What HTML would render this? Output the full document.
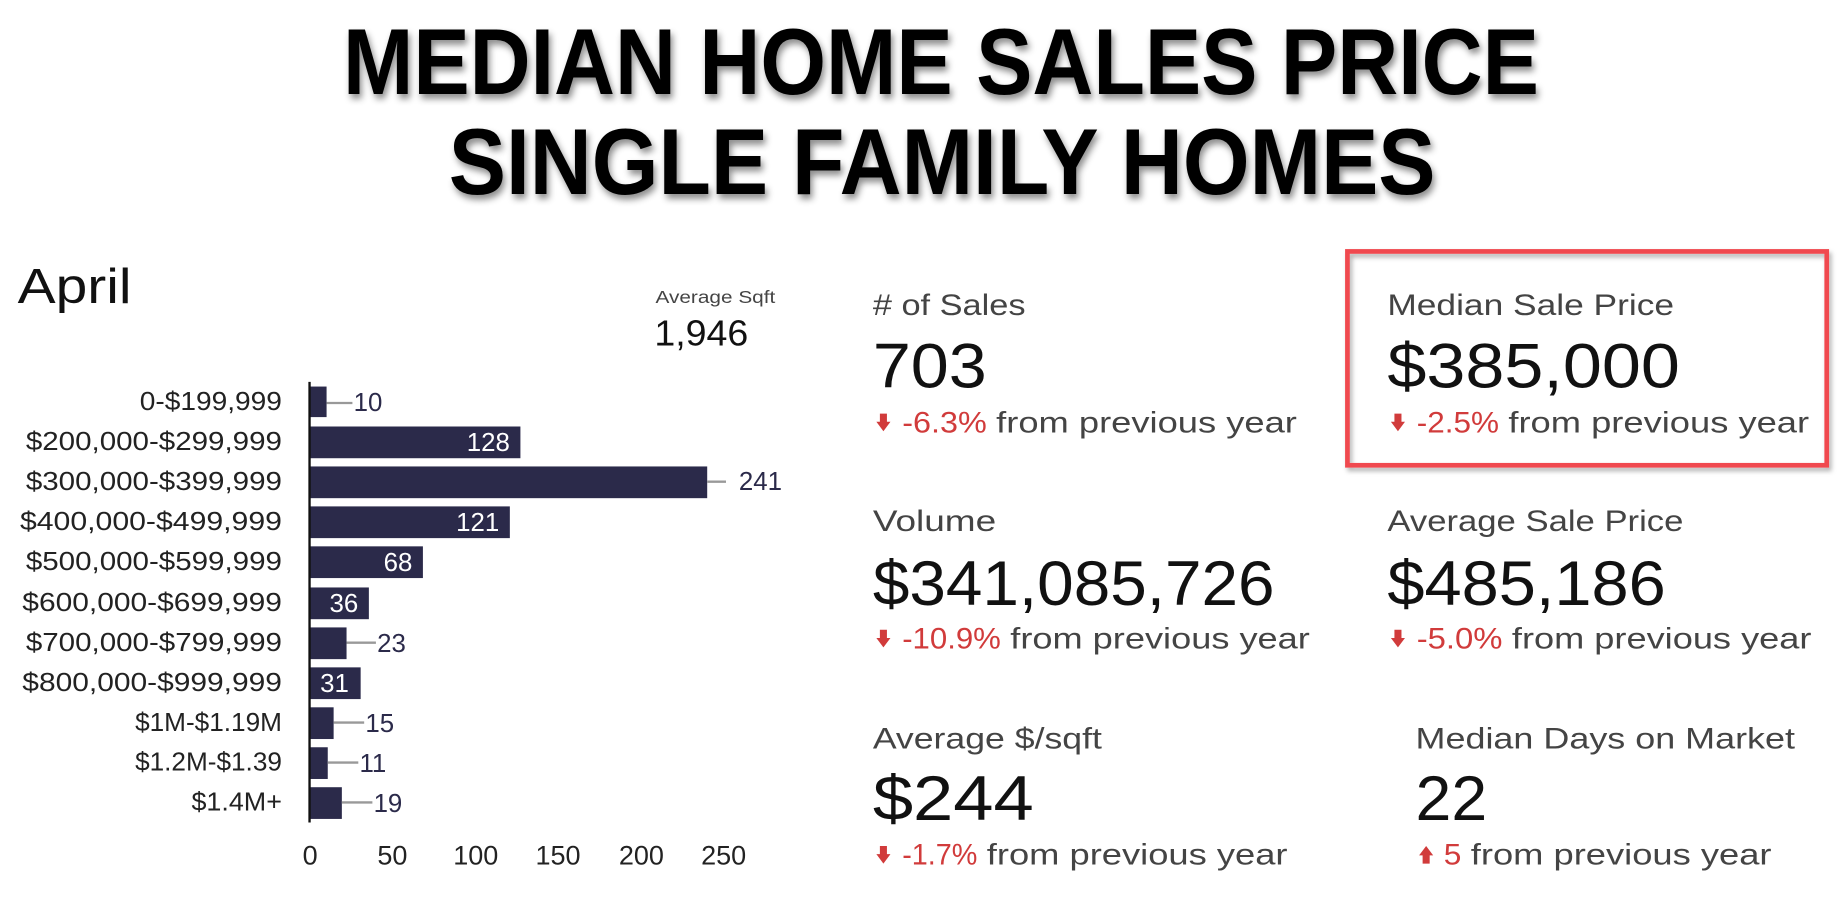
<!DOCTYPE html>
<html><head><meta charset="utf-8"><style>html,body{margin:0;padding:0;background:#fff;overflow:hidden}svg{display:block}</style></head>
<body>
<svg width="1842" height="900" viewBox="0 0 1568 766" preserveAspectRatio="none" xmlns="http://www.w3.org/2000/svg" font-family="Liberation Sans, sans-serif">
<defs>
<filter id="sh" x="-5%" y="-20%" width="110%" height="150%"><feDropShadow dx="2" dy="4" stdDeviation="3" flood-color="#000" flood-opacity="0.45"/></filter>
<filter id="bs" x="-5%" y="-5%" width="110%" height="115%"><feDropShadow dx="2" dy="3" stdDeviation="2" flood-color="#000" flood-opacity="0.3"/></filter>
</defs>
<rect width="1568" height="766" fill="#fff"/>
<g filter="url(#sh)" font-weight="bold" font-size="80" fill="#000">
<text x="292" y="80" textLength="1018" lengthAdjust="spacingAndGlyphs">MEDIAN HOME SALES PRICE</text>
<text x="382" y="165" textLength="840" lengthAdjust="spacingAndGlyphs">SINGLE FAMILY HOMES</text>
</g>
<text x="15" y="258" font-size="42" fill="#111" textLength="97" lengthAdjust="spacingAndGlyphs">April</text>
<text x="558" y="258" font-size="15" fill="#444" textLength="102" lengthAdjust="spacingAndGlyphs">Average Sqft</text>
<text x="557" y="294" font-size="31" fill="#111" textLength="80" lengthAdjust="spacingAndGlyphs">1,946</text>
<g fill="#2b2a4a">
<rect x="264" y="329" width="14" height="26"/>
<rect x="264" y="363" width="179" height="27"/>
<rect x="264" y="397" width="338" height="27"/>
<rect x="264" y="431" width="170" height="27"/>
<rect x="264" y="465" width="96" height="27"/>
<rect x="264" y="500" width="50" height="27"/>
<rect x="264" y="534" width="31" height="27"/>
<rect x="264" y="568" width="43" height="27"/>
<rect x="264" y="602" width="20" height="27"/>
<rect x="264" y="636" width="15" height="27"/>
<rect x="264" y="670" width="27" height="27"/>
</g>
<line x1="263.5" y1="325" x2="263.5" y2="700" stroke="#111" stroke-width="2"/>
<g stroke="#999" stroke-width="2">
<line x1="278" y1="343" x2="300" y2="343"/>
<line x1="602" y1="410" x2="618" y2="410"/>
<line x1="295" y1="547" x2="320" y2="547"/>
<line x1="284" y1="615" x2="310" y2="615"/>
<line x1="279" y1="649" x2="305" y2="649"/>
<line x1="291" y1="683" x2="317" y2="683"/>
</g>
<g font-size="22" fill="#2b2a4a">
<text x="301" y="350">10</text>
<text x="629" y="417">241</text>
<text x="321" y="555">23</text>
<text x="311" y="623">15</text>
<text x="306" y="657">11</text>
<text x="318" y="691">19</text>
</g>
<g font-size="22" fill="#fff" text-anchor="end">
<text x="434" y="384">128</text>
<text x="425" y="452">121</text>
<text x="351" y="486">68</text>
<text x="305" y="521">36</text>
<text x="297" y="589">31</text>
</g>
<g font-size="22" fill="#222">
<text x="119" y="349" textLength="121" lengthAdjust="spacingAndGlyphs">0-$199,999</text>
<text x="22" y="383" textLength="218" lengthAdjust="spacingAndGlyphs">$200,000-$299,999</text>
<text x="22" y="417" textLength="218" lengthAdjust="spacingAndGlyphs">$300,000-$399,999</text>
<text x="17" y="451" textLength="223" lengthAdjust="spacingAndGlyphs">$400,000-$499,999</text>
<text x="22" y="485" textLength="218" lengthAdjust="spacingAndGlyphs">$500,000-$599,999</text>
<text x="19" y="520" textLength="221" lengthAdjust="spacingAndGlyphs">$600,000-$699,999</text>
<text x="22" y="554" textLength="218" lengthAdjust="spacingAndGlyphs">$700,000-$799,999</text>
<text x="19" y="588" textLength="221" lengthAdjust="spacingAndGlyphs">$800,000-$999,999</text>
<text x="115" y="622" textLength="125" lengthAdjust="spacingAndGlyphs">$1M-$1.19M</text>
<text x="115" y="656" textLength="125" lengthAdjust="spacingAndGlyphs">$1.2M-$1.39</text>
<text x="163" y="690" textLength="77" lengthAdjust="spacingAndGlyphs">$1.4M+</text>
</g>
<g font-size="23" fill="#222" text-anchor="middle">
<text x="264" y="736">0</text><text x="334" y="736">50</text><text x="405" y="736">100</text>
<text x="475" y="736">150</text><text x="546" y="736">200</text><text x="616" y="736">250</text>
</g>
<rect x="1147" y="214" width="408" height="182" fill="none" stroke="#f04a4f" stroke-width="4" filter="url(#bs)"/>
<g font-size="25" fill="#444">
<text x="743" y="268" textLength="130" lengthAdjust="spacingAndGlyphs"># of Sales</text>
<text x="1181" y="268" textLength="244" lengthAdjust="spacingAndGlyphs">Median Sale Price</text>
<text x="743" y="452" textLength="105" lengthAdjust="spacingAndGlyphs">Volume</text>
<text x="1181" y="452" textLength="252" lengthAdjust="spacingAndGlyphs">Average Sale Price</text>
<text x="743" y="637" textLength="195" lengthAdjust="spacingAndGlyphs">Average $/sqft</text>
<text x="1205" y="637" textLength="323" lengthAdjust="spacingAndGlyphs">Median Days on Market</text>
</g>
<g font-size="54" fill="#111">
<text x="743" y="330" textLength="97" lengthAdjust="spacingAndGlyphs">703</text>
<text x="1181" y="330" textLength="249" lengthAdjust="spacingAndGlyphs">$385,000</text>
<text x="743" y="515" textLength="342" lengthAdjust="spacingAndGlyphs">$341,085,726</text>
<text x="1181" y="515" textLength="237" lengthAdjust="spacingAndGlyphs">$485,186</text>
<text x="743" y="698" textLength="137" lengthAdjust="spacingAndGlyphs">$244</text>
<text x="1205" y="698" textLength="61" lengthAdjust="spacingAndGlyphs">22</text>
</g>
<g fill="#d13b3b">
<path d="M749 352h6v7h3l-6 8-6-8h3z"/>
<path d="M1187 352h6v7h3l-6 8-6-8h3z"/>
<path d="M749 536h6v7h3l-6 8-6-8h3z"/>
<path d="M1187 536h6v7h3l-6 8-6-8h3z"/>
<path d="M749 720h6v7h3l-6 8-6-8h3z"/>
<path d="M1211 735h6v-7h3l-6-8-6 8h3z"/>
</g>
<g font-size="25" fill="#d13b3b">
<text x="768" y="368" textLength="72" lengthAdjust="spacingAndGlyphs">-6.3%</text>
<text x="1206" y="368" textLength="70" lengthAdjust="spacingAndGlyphs">-2.5%</text>
<text x="768" y="552" textLength="84" lengthAdjust="spacingAndGlyphs">-10.9%</text>
<text x="1206" y="552" textLength="73" lengthAdjust="spacingAndGlyphs">-5.0%</text>
<text x="768" y="736" textLength="64" lengthAdjust="spacingAndGlyphs">-1.7%</text>
<text x="1229" y="736" textLength="15" lengthAdjust="spacingAndGlyphs">5</text>
</g>
<g font-size="25" fill="#444">
<text x="848" y="368" textLength="256" lengthAdjust="spacingAndGlyphs">from previous year</text>
<text x="1284" y="368" textLength="256" lengthAdjust="spacingAndGlyphs">from previous year</text>
<text x="860" y="552" textLength="255" lengthAdjust="spacingAndGlyphs">from previous year</text>
<text x="1287" y="552" textLength="255" lengthAdjust="spacingAndGlyphs">from previous year</text>
<text x="840" y="736" textLength="256" lengthAdjust="spacingAndGlyphs">from previous year</text>
<text x="1252" y="736" textLength="256" lengthAdjust="spacingAndGlyphs">from previous year</text>
</g>
</svg>
</body></html>
